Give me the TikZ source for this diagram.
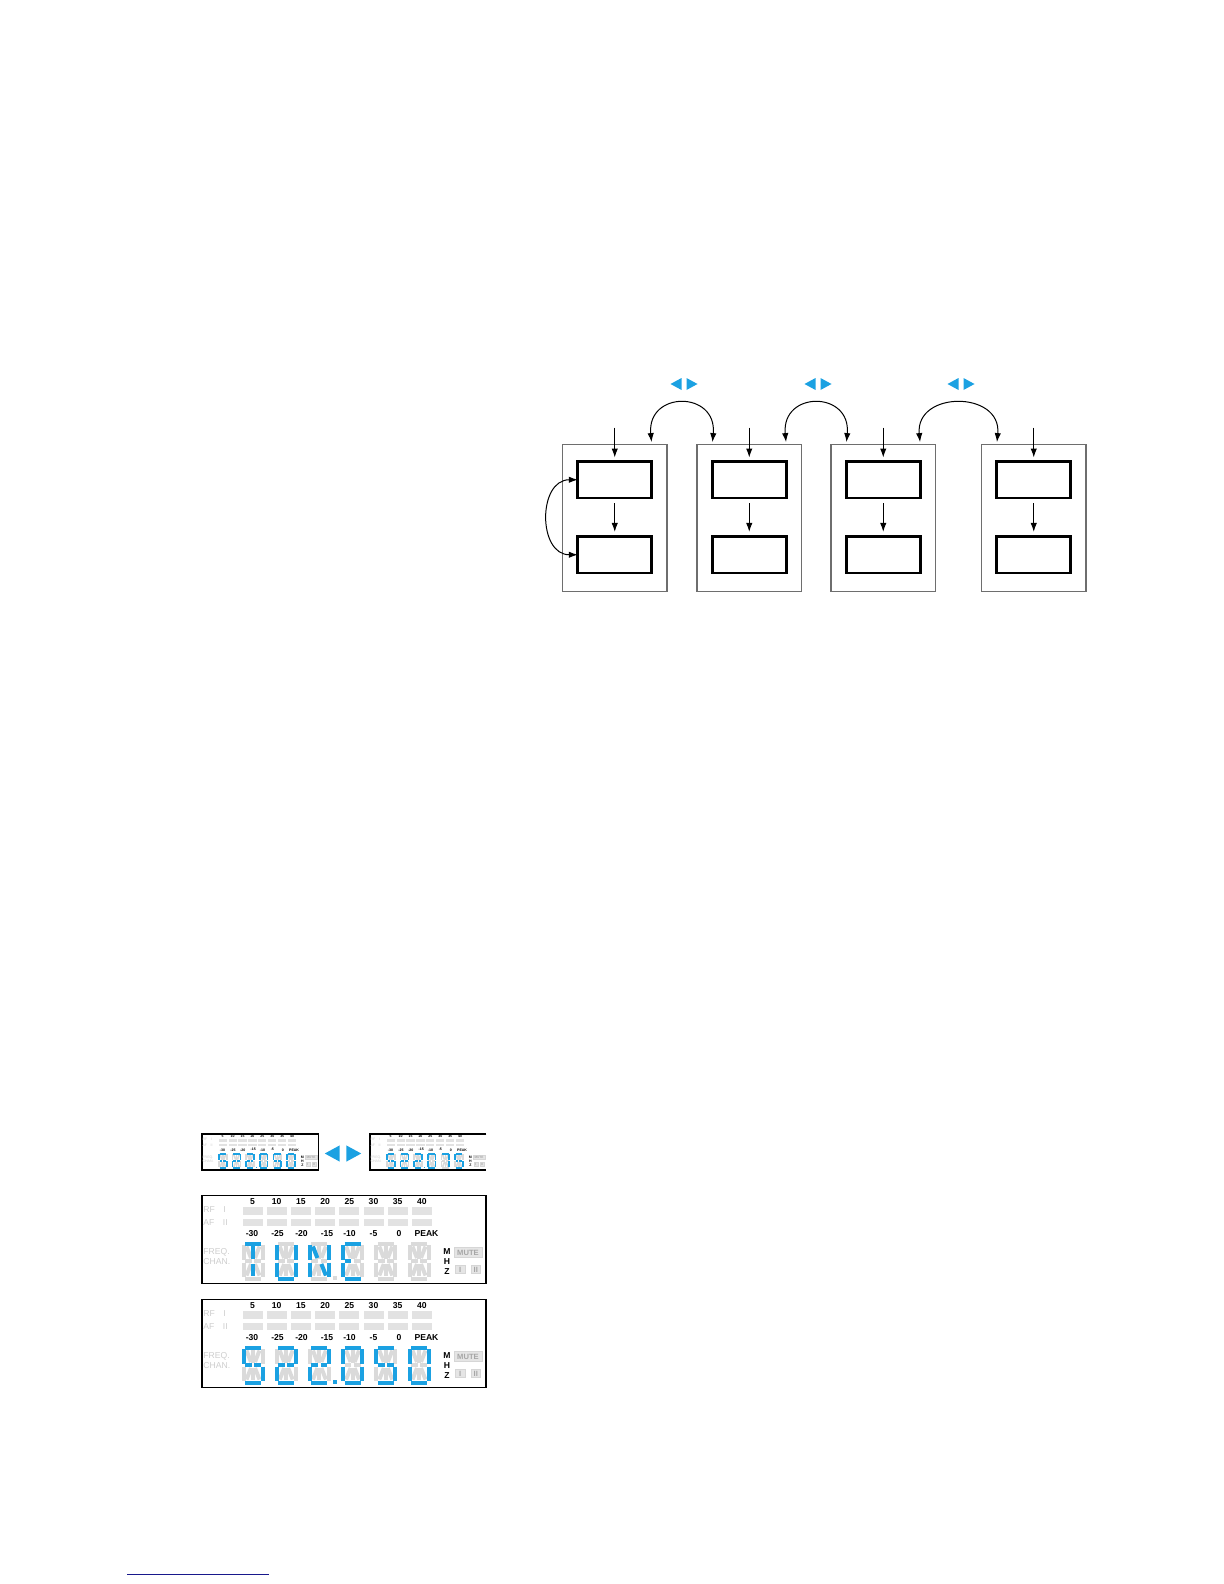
\documentclass[tikz,border=0pt]{standalone}
\usepackage{fontspec}
\setmainfont{Liberation Sans}
\usetikzlibrary{arrows.meta,positioning,calc}

\definecolor{bleu}{RGB}{27,161,226}
\definecolor{grisbord}{RGB}{110,110,110}
\definecolor{grisseg}{RGB}{218,218,218}
\definecolor{grisbarre}{RGB}{226,226,226}
\definecolor{gristexte}{RGB}{205,205,205}
\definecolor{marine}{RGB}{24,24,140}

% Segments d'un chiffre (coin haut gauche en (0,0))
\newcommand\sgA{(3,1.5) -- (19,1.5)}
\newcommand\sgB{(20.5,3) -- (20.5,17.5)}
\newcommand\sgC{(20.5,20.5) -- (20.5,35)}
\newcommand\sgD{(3,36.5) -- (19,36.5)}
\newcommand\sgE{(1.5,20.5) -- (1.5,35)}
\newcommand\sgF{(1.5,3) -- (1.5,17.5)}
\newcommand\sgG{(3,19) -- (9.8,19)}
\newcommand\sgH{(12.2,19) -- (19,19)}
\newcommand\sgI{(4.5,4.5) -- (9,16)}
\newcommand\sgJ{(11,4) -- (11,16.5)}
\newcommand\sgK{(17.5,4.5) -- (13,16)}
\newcommand\sgL{(9,22) -- (4.5,33.5)}
\newcommand\sgM{(11,21.5) -- (11,34)}
\newcommand\sgN{(13,22) -- (17.5,33.5)}
\newcommand\sgZ{}

\newcommand\chiffre[3]{%
  \foreach \s in {A,B,C,D,E,F,G,H,I,J,K,L,M,N}
    {\edef\lecmd{\noexpand\draw[segoff,shift={(#1,#2)}] \csname sg\s\endcsname;}\lecmd}
  \foreach \s in #3
    {\edef\lecmd{\noexpand\draw[segon,shift={(#1,#2)}] \csname sg\s\endcsname;}\lecmd}}

% Afficheur : nom, coin, echelle, chiffres, couleur du point, cadre
\newcommand\afficheur[6]{%
\begin{scope}[shift={#2}, scale=#3, transform shape,
    segoff/.style={draw=grisseg, line width=#3*2pt},
    segon/.style={draw=bleu, line width=#3*2pt}]
  \draw[black, line width=0.6pt] #6;
  \foreach \v [count=\i from 0] in {5,10,15,20,25,30,35,40}{
    \node[gradu] (#1h\i) at (50.5+24.2*\i,6) {\v};
    \fill[grisbarre] (40.5+24.2*\i,11.5) rectangle ++(20,7.5);
    \fill[grisbarre] (40.5+24.2*\i,23.5) rectangle ++(20,6.5);}
  \foreach \x/\v [count=\i] in {50/-30,75.5/-25,99.5/-20,125/-15,147.5/-10,171.5/-5,197/0,224.5/PEAK}
    \node[gradu] (#1b\i) at (\x,38.5) {\v};
  \node[legende] (#1rf) at (1,14) {RF\quad I};
  \node[legende] (#1af) at (1,27) {AF\quad II};
  \node[legende] (#1fr) at (1,56.5) {FREQ.};
  \node[legende] (#1ch) at (1,66.5) {CHAN.};
  \foreach \p [count=\i from 0] in {#4}
    {\chiffre{40+33.2*\i}{46.5}{\p}}
  \fill[#5] (131,80) rectangle ++(4,4);
  \node[gradu] (#1m) at (245,56.5) {M};
  \node[gradu] (#1hh) at (245,66.5) {H};
  \node[gradu] (#1z) at (245,76.5) {Z};
  \node[touche, minimum width=14pt, minimum height=5pt] (#1mute) at (266,57) {MUTE};
  \node[touche, minimum width=4.75pt, minimum height=4pt] (#1i) at (258.25,74) {I};
  \node[touche, minimum width=4.75pt, minimum height=4pt] (#1ii) at (273.75,74) {II};
\end{scope}}

\begin{document}
\begin{tikzpicture}[
    x=0.5pt, y=-0.5pt,
    panneau/.style={draw=grisbord, line width=0.7pt, minimum width=52.25pt,
        minimum height=73.5pt, inner sep=0pt, outer sep=0pt},
    boite/.style={draw, line width=1.4pt, minimum width=37pt,
        minimum height=18.25pt, inner sep=0pt, outer sep=0pt},
    fleche/.style={-{Latex[length=4.5pt,width=3.2pt]}, line width=0.5pt},
    aller retour/.style={{Latex[length=4.5pt,width=3.2pt]}-{Latex[length=4.5pt,width=3.2pt]}, line width=0.5pt},
    gradu/.style={font=\bfseries\fontsize{4.3}{5}\selectfont, inner sep=0pt},
    legende/.style={anchor=west, text=gristexte, font=\fontsize{4.3}{5}\selectfont, inner sep=0pt},
    touche/.style={fill=black!10, draw=black!16, line width=0.3pt, text=black!35,
        font=\bfseries\fontsize{3.8}{4}\selectfont, inner sep=0pt},
    gauchedroite/.pic={
        \fill[bleu] (-2.5,-6) -- (-13.5,0) -- (-2.5,6) -- cycle;
        \fill[bleu] (2.5,-6) -- (13.5,0) -- (2.5,6) -- cycle;}
]
\useasboundingbox (0,0) rectangle (1224,1584);

% Panneaux
\node[panneau] (p1) at (614.75,518) {};
\node[panneau, right=15pt of p1] (p2) {};
\node[panneau, right=14.75pt of p2] (p3) {};
\node[panneau, right=23pt of p3] (p4) {};

% Cadres interieurs et fleches
\foreach \n in {1,2,3,4}{
  \node[boite, below=8.5pt of p\n.north] (h\n) {};
  \node[boite, below=19.25pt of h\n] (b\n) {};
  \coordinate[above=17pt of h\n] (e\n);
  \draw[fleche, shorten >=2pt] (e\n) -- (h\n);
  \draw[fleche, shorten <=2.5pt, shorten >=2.3pt] (h\n) -- (b\n);
}

% Passages d'un panneau a l'autre
\draw[aller retour, shorten <=1.2pt, shorten >=1.2pt] (h1.east |- p1.north)
    .. controls +(-5,-54) and +(5,-54) .. (h2.west |- p2.north);
\draw[aller retour, shorten <=1.2pt, shorten >=1.2pt] (h2.east |- p2.north)
    .. controls +(-5,-54) and +(5,-54) .. (h3.west |- p3.north);
\draw[aller retour, shorten <=1.2pt, shorten >=1.2pt] (h3.east |- p3.north)
    .. controls +(-5,-54) and +(5,-54) .. (h4.west |- p4.north);
\draw[aller retour] (h1.west) .. controls +(-40,0) and +(-40,0) .. (b1.west);

\pic (t1) at (684,384) {gauchedroite};
\pic (t2) at (818,384) {gauchedroite};
\pic (t3) at (961,384) {gauchedroite};

% Afficheurs
\afficheur{pa}{(202,1134)}{0.41}{{A,F,G,H,C,D},{A,B,G,H,E,D},{A,B,G,H,E,D},{A,B,C,D,E,F},{A,F,G,H,C,D},{A,B,C,D,E,F}}{bleu}{(0,0) rectangle (284,88)}
\afficheur{pb}{(370,1134)}{0.41}{{A,F,G,H,C,D},{A,B,G,H,E,D},{A,B,G,H,E,D},{A,B,C,D,E,F},{A,B,C},{A,F,G,H,C,D}}{bleu}{(284,0) -- (0,0) -- (0,88) -- (284,88)}
\pic[scale=1.35] (t4) at (343,1153.5) {gauchedroite};

\afficheur{pc}{(202,1195.5)}{1}{{A,J,M},{F,E,D,C,B},{F,E,I,N,B,C},{A,F,G,E,D},{Z},{Z}}{grisseg}{(0,0) rectangle (284,88)}
\afficheur{pd}{(202,1299.5)}{1}{{A,F,G,H,C,D},{A,B,G,H,E,D},{A,B,G,H,E,D},{A,B,C,D,E,F},{A,F,G,H,C,D},{A,B,C,D,E,F}}{bleu}{(0,0) rectangle (284,88)}

% Trait du bas
\draw[marine, line width=0.8pt] (127,1574.5) -- (269,1574.5);
\end{tikzpicture}
\end{document}
